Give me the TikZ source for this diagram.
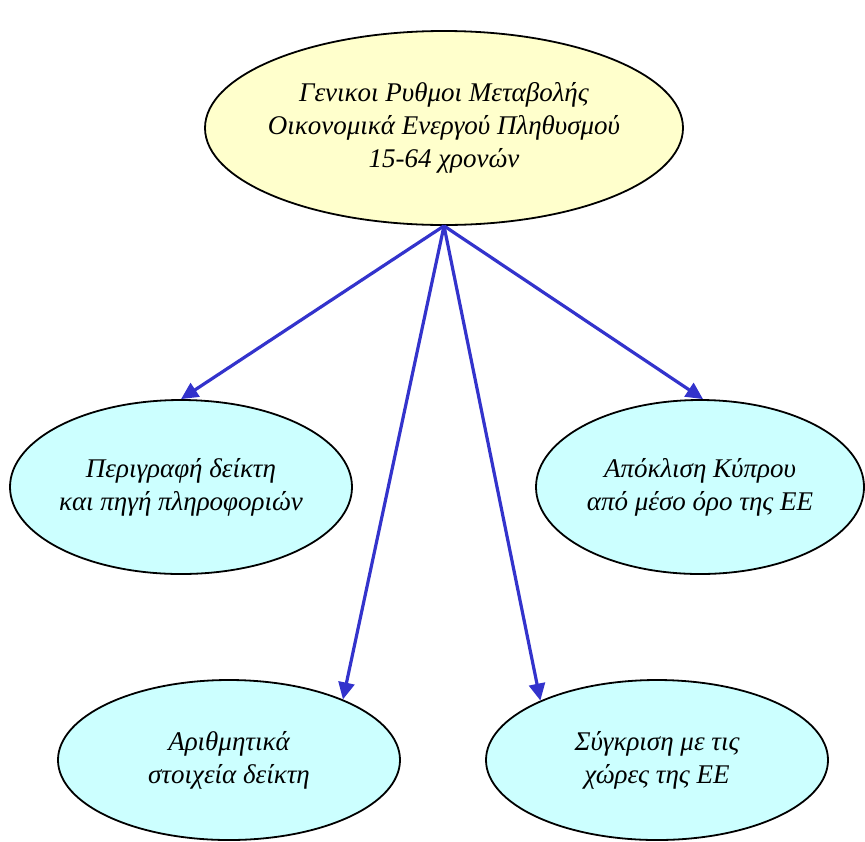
\documentclass[tikz,border=0pt]{standalone}
\usepackage{fontspec}
\setmainfont{Liberation Serif}
\usepackage{xcolor}
\usetikzlibrary{shapes.geometric,arrows.meta}
\definecolor{topfill}{HTML}{FFFFCC}
\definecolor{subfill}{HTML}{CCFFFF}
\definecolor{linkblue}{HTML}{3333CC}

\begin{document}
\begin{tikzpicture}[
  x=0.5pt,
  y=-0.5pt,
  every node/.style={font=\itshape\fontsize{13.5}{16.5}\selectfont, align=center},
  topnode/.style={ellipse, draw=black, line width=0.9pt, fill=topfill,
    minimum width=239pt, minimum height=97pt, inner xsep=-8pt, inner ysep=0pt},
  subnode/.style={ellipse, draw=black, line width=0.9pt, fill=subfill,
    minimum width=171pt, minimum height=87pt, inner xsep=-4pt, inner ysep=0pt},
  lownode/.style={subnode, minimum height=80pt},
  link/.style={linkblue, line width=1.6pt, -{Triangle[length=8.5pt, width=8pt]}}
]
  \useasboundingbox (0,0) rectangle (865,841);

  % Top ellipse
  \node[topnode] (gen) at (444,128)
    {Γενικοι Ρυθμοι Μεταβολής\\Οικονομικά Ενεργού Πληθυσμού\\15-64 χρονών};

  % Middle row
  \node[subnode] (descr) at (181,487) {Περιγραφή δείκτη\\και πηγή πληροφοριών};
  \node[subnode, minimum width=164pt] (diff) at (700,487) {Απόκλιση Κύπρου\\από μέσο όρο της ΕΕ};

  % Bottom row
  \node[lownode] (nums) at (229,760) {Αριθμητικά\\στοιχεία δείκτη};
  \node[lownode] (comp) at (657,760) {Σύγκριση με τις\\χώρες της ΕΕ};

  % Arrows
  \draw[link] (gen.south) -- (descr.north);
  \draw[link] (gen.south) -- (nums.28);
  \draw[link] (gen.south) -- (comp.153);
  \draw[link] (gen.south) -- (diff.88);
\end{tikzpicture}
\end{document}
